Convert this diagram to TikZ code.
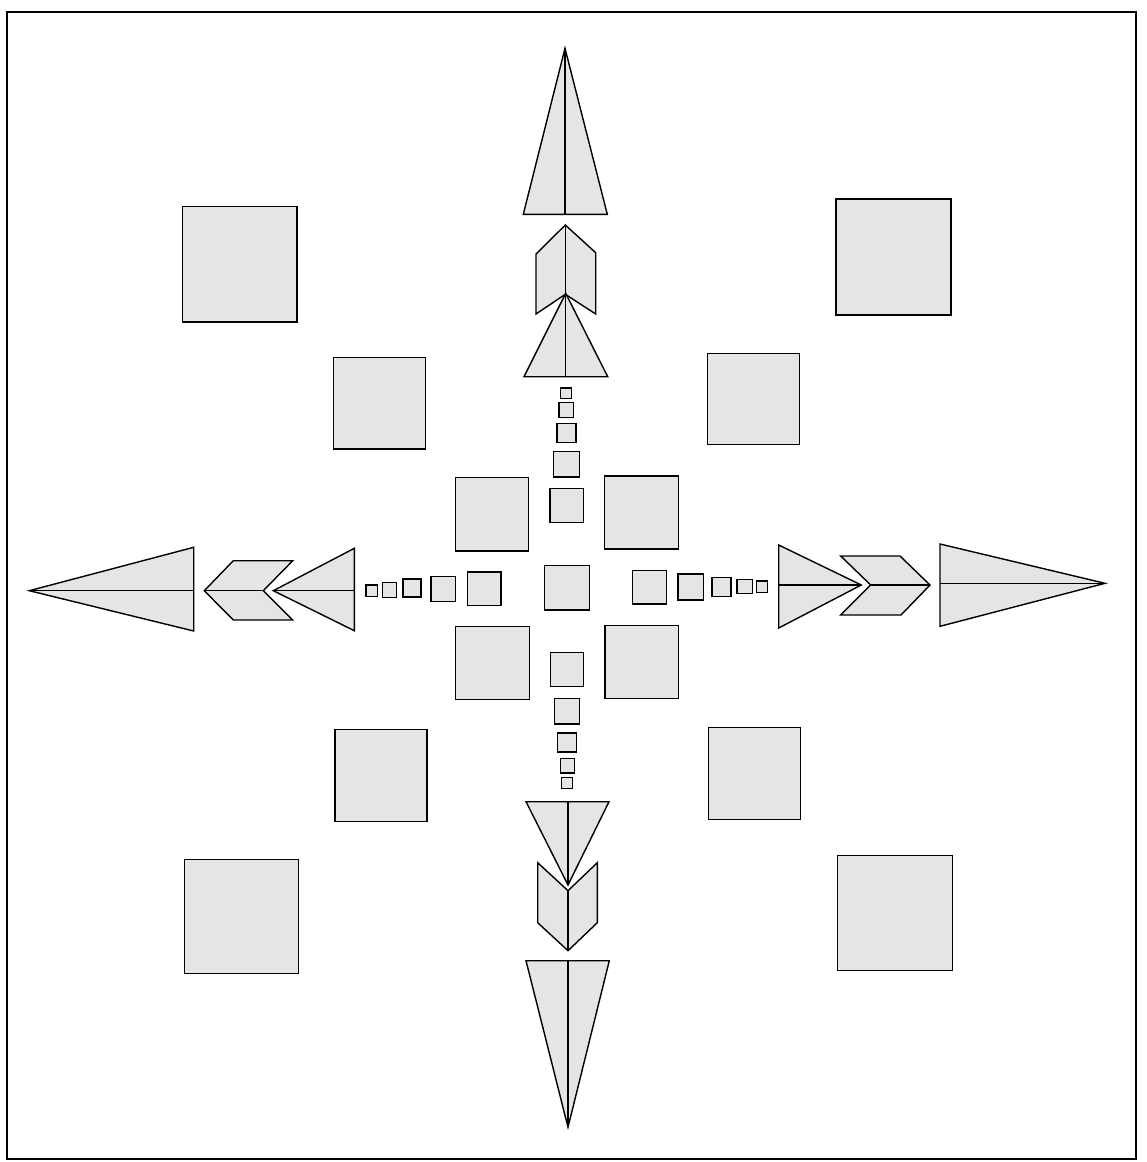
\documentclass[tikz,border=0pt]{standalone}
\begin{document}
\begin{tikzpicture}[x=1pt,y=-1pt,
  shp/.style={draw=black,fill=black!10,line width=1.4pt,line join=miter},
  midl/.style={draw=black,line width=1.2pt},
  frame/.style={draw=black,line width=1.3pt}]
\useasboundingbox (0,0) rectangle (1146,1162);
\draw[frame] (7,12) rectangle (1136,1159);
% corner squares
\draw[shp] (182.3,206.7) rectangle (297,322);
\draw[shp] (836,199) rectangle (951,315);
\draw[shp] (184.3,859.7) rectangle (298.7,973.7);
\draw[shp] (837.7,855.3) rectangle (952.3,970.3);
% middle ring squares
\draw[shp] (333.7,357.7) rectangle (425.7,449);
\draw[shp] (707.3,353.7) rectangle (799.7,444.3);
\draw[shp] (335,729.7) rectangle (427,821.7);
\draw[shp] (708.3,727.7) rectangle (800.3,819.3);
% inner squares
\draw[shp] (455.3,477.3) rectangle (528.7,551);
\draw[shp] (604.7,476) rectangle (678.3,549);
\draw[shp] (455.3,626.7) rectangle (529.3,699.3);
\draw[shp] (605,625.7) rectangle (678.7,698.3);
% center
\draw[shp] (544.7,565.7) rectangle (589.3,610);
% top row of small squares
\draw[shp] (560.7,388) rectangle (571.7,398.3);
\draw[shp] (559,402.7) rectangle (573.7,417.3);
\draw[shp] (557,423.7) rectangle (576,442.7);
\draw[shp] (553.7,451.3) rectangle (579.3,477);
\draw[shp] (550,488.7) rectangle (583.7,522.3);
% bottom row
\draw[shp] (550.3,652.7) rectangle (583.7,686.7);
\draw[shp] (554.3,698.7) rectangle (579.3,724);
\draw[shp] (557.3,733) rectangle (576.7,752);
\draw[shp] (560.3,758.7) rectangle (574.3,773);
\draw[shp] (561.7,777.7) rectangle (572.7,788.3);
% right row
\draw[shp] (632.3,570.7) rectangle (666.3,604);
\draw[shp] (678,574) rectangle (703.3,600);
\draw[shp] (712,577.3) rectangle (731,596.3);
\draw[shp] (737,579.3) rectangle (752.3,593.7);
\draw[shp] (756.3,581) rectangle (767.7,592.3);
% left row
\draw[shp] (467.3,572) rectangle (501,605.7);
\draw[shp] (431,576.3) rectangle (455.7,601.3);
\draw[shp] (403,579) rectangle (421,597);
\draw[shp] (382.3,582.3) rectangle (396.7,597.3);
\draw[shp] (366,585) rectangle (377.3,596.7);
% ---- top arrow ----
\draw[shp] (565,48.3) -- (607.3,214.3) -- (523.3,214.3) -- cycle;
\draw[midl] (565,48.3) -- (565,214.3);
\draw[shp] (565.3,225) -- (595.7,252.7) -- (595.7,314) -- (565.3,294.3) -- (536,314) -- (536,254) -- cycle;
\draw[midl] (565.3,225) -- (565.3,294.3);
\draw[shp] (565.7,293.3) -- (607.7,376.7) -- (524,376.7) -- cycle;
\draw[midl] (565.7,293.3) -- (565.7,376.7);
% ---- bottom arrow ----
\draw[shp] (568,885) -- (609,801.7) -- (526,801.7) -- cycle;
\draw[midl] (568,885) -- (568,801.7);
\draw[shp] (568,950.7) -- (597.3,922.7) -- (597.3,862.7) -- (568,890.7) -- (537.7,862.7) -- (537.7,922.7) -- cycle;
\draw[midl] (568,950.7) -- (568,890.7);
\draw[shp] (568,1127.3) -- (609.3,960.7) -- (526,960.7) -- cycle;
\draw[midl] (568,1127.3) -- (568,960.7);
% ---- right arrow ----
\draw[shp] (861.3,585) -- (778.7,545) -- (778.7,628) -- cycle;
\draw[midl] (861.3,585) -- (778.7,585);
\draw[shp] (930,585) -- (900,556) -- (840.7,556) -- (870.7,585) -- (840.7,615) -- (901,615) -- cycle;
\draw[midl] (930,585) -- (870.7,585);
\draw[shp] (1105,583.3) -- (940,544) -- (940,626.3) -- cycle;
\draw[midl] (1105,583.3) -- (940,583.3);
% ---- left arrow ----
\draw[shp] (273.3,590.7) -- (354.3,548.3) -- (354.3,630.7) -- cycle;
\draw[midl] (273.3,590.7) -- (354.3,590.7);
\draw[shp] (204.3,590.7) -- (233.3,560.7) -- (292.7,560.7) -- (263.3,590.7) -- (292.7,620) -- (233.3,620) -- cycle;
\draw[midl] (204.3,590.7) -- (263.3,590.7);
\draw[shp] (29.3,590.7) -- (193.7,547.3) -- (193.7,631) -- cycle;
\draw[midl] (29.3,590.7) -- (193.7,590.7);
\end{tikzpicture}
\end{document}
